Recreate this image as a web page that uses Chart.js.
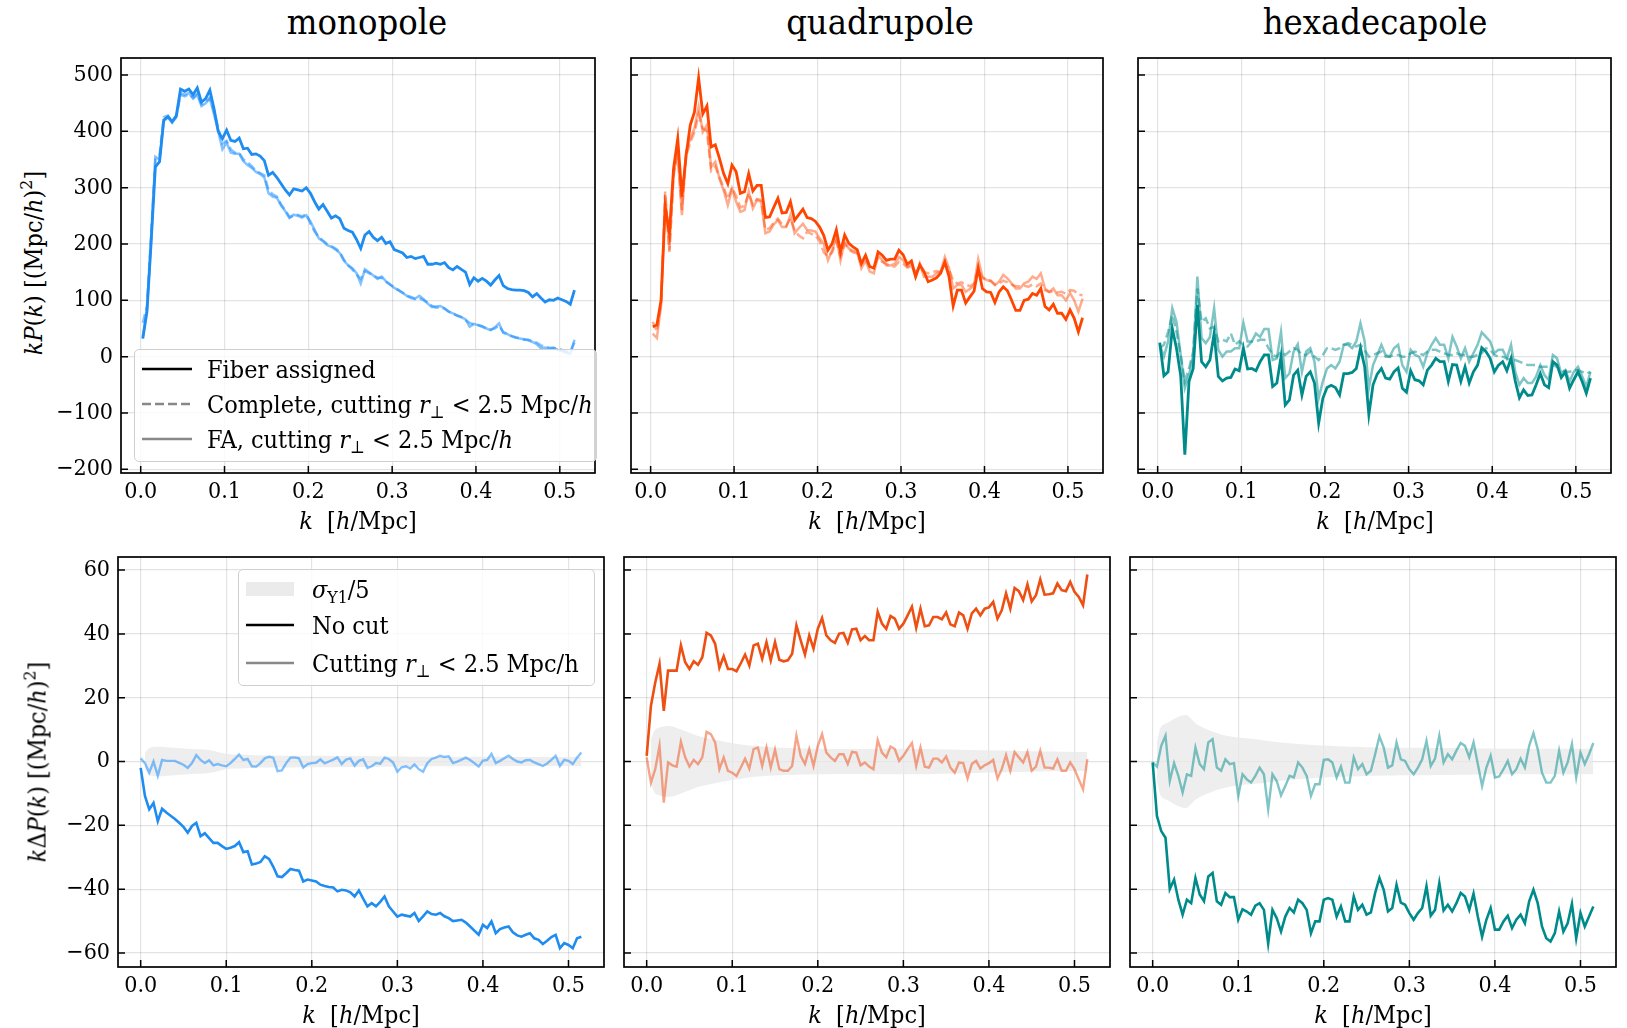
<!DOCTYPE html>
<html>
<head>
<meta charset="utf-8">
<script src="https://cdn.jsdelivr.net/npm/chart.js@4.4.1/dist/chart.umd.min.js"></script>
<style>
  body { margin: 0; width: 1627px; height: 1028px; background: #fff; position: relative; overflow: hidden;
         font-family: "DejaVu Serif Condensed", "DejaVu Serif", serif; font-stretch: condensed; color: #000; }
  canvas { position: absolute; }
  .txt { position: absolute; white-space: nowrap; line-height: 1; }
  .title { font-size: 36px; transform: translate(-50%, -50%); }
  .xlabel { font-size: 25px; transform: translate(-50%, -50%); }
  .ylabel { font-size: 25px; transform: translate(-50%, -50%) rotate(-90deg); }
  sup { font-size: 0.7em; vertical-align: 0.55em; line-height: 0; }
  sub { font-size: 0.7em; vertical-align: -0.3em; line-height: 0; }
  .legend { position: absolute; background: rgba(255,255,255,0.8); border: 1.5px solid #cfcfcf; border-radius: 5px; box-sizing: border-box; }
  .row { position: absolute; left: 0; height: 30px; display: flex; align-items: center; font-size: 25px; white-space: nowrap; }
  .row svg { position: absolute; }
  .row span { position: absolute; }
</style>
</head>
<body>
<div class="txt title" style="left:367px; top:22px">monopole</div>
<div class="txt title" style="left:880px; top:22px">quadrupole</div>
<div class="txt title" style="left:1375px; top:22px">hexadecapole</div>

<div class="txt xlabel" style="left:358px; top:520px"><i>k</i>&nbsp;&nbsp;[<i>h</i>/Mpc]</div>
<div class="txt xlabel" style="left:867px; top:520px"><i>k</i>&nbsp;&nbsp;[<i>h</i>/Mpc]</div>
<div class="txt xlabel" style="left:1375px; top:520px"><i>k</i>&nbsp;&nbsp;[<i>h</i>/Mpc]</div>
<div class="txt xlabel" style="left:361px; top:1014px"><i>k</i>&nbsp;&nbsp;[<i>h</i>/Mpc]</div>
<div class="txt xlabel" style="left:867px; top:1014px"><i>k</i>&nbsp;&nbsp;[<i>h</i>/Mpc]</div>
<div class="txt xlabel" style="left:1373px; top:1014px"><i>k</i>&nbsp;&nbsp;[<i>h</i>/Mpc]</div>

<div class="txt ylabel" style="left:33px; top:263px"><i>kP</i>(<i>k</i>) [(Mpc/<i>h</i>)<sup>2</sup>]</div>
<div class="txt ylabel" style="left:37px; top:762px"><i>k</i>Δ<i>P</i>(<i>k</i>) [(Mpc/<i>h</i>)<sup>2</sup>]</div>

<script>
// k bin centres of the multipoles, and the bins of the differences
const kTop = [
  0.0025, 0.0075, 0.0125, 0.0175, 0.0225, 0.0275, 0.0325, 0.0375, 0.0425, 0.0475,
  0.0525, 0.0575, 0.0625, 0.0675, 0.0725, 0.0775, 0.0825, 0.0875, 0.0925, 0.0975,
  0.1025, 0.1075, 0.1125, 0.1175, 0.1225, 0.1275, 0.1325, 0.1375, 0.1425, 0.1475,
  0.1525, 0.1575, 0.1625, 0.1675, 0.1725, 0.1775, 0.1825, 0.1875, 0.1925, 0.1975,
  0.2025, 0.2075, 0.2125, 0.2175, 0.2225, 0.2275, 0.2325, 0.2375, 0.2425, 0.2475,
  0.2525, 0.2575, 0.2625, 0.2675, 0.2725, 0.2775, 0.2825, 0.2875, 0.2925, 0.2975,
  0.3025, 0.3075, 0.3125, 0.3175, 0.3225, 0.3275, 0.3325, 0.3375, 0.3425, 0.3475,
  0.3525, 0.3575, 0.3625, 0.3675, 0.3725, 0.3775, 0.3825, 0.3875, 0.3925, 0.3975,
  0.4025, 0.4075, 0.4125, 0.4175, 0.4225, 0.4275, 0.4325, 0.4375, 0.4425, 0.4475,
  0.4525, 0.4575, 0.4625, 0.4675, 0.4725, 0.4775, 0.4825, 0.4875, 0.4925, 0.4975,
  0.5025, 0.5075, 0.5125, 0.5175
]
const kBottom = [
  0.000, 0.005, 0.010, 0.015, 0.020, 0.025, 0.030, 0.035, 0.040, 0.045,
  0.050, 0.055, 0.060, 0.065, 0.070, 0.075, 0.080, 0.085, 0.090, 0.095,
  0.100, 0.105, 0.110, 0.115, 0.120, 0.125, 0.130, 0.135, 0.140, 0.145,
  0.150, 0.155, 0.160, 0.165, 0.170, 0.175, 0.180, 0.185, 0.190, 0.195,
  0.200, 0.205, 0.210, 0.215, 0.220, 0.225, 0.230, 0.235, 0.240, 0.245,
  0.250, 0.255, 0.260, 0.265, 0.270, 0.275, 0.280, 0.285, 0.290, 0.295,
  0.300, 0.305, 0.310, 0.315, 0.320, 0.325, 0.330, 0.335, 0.340, 0.345,
  0.350, 0.355, 0.360, 0.365, 0.370, 0.375, 0.380, 0.385, 0.390, 0.395,
  0.400, 0.405, 0.410, 0.415, 0.420, 0.425, 0.430, 0.435, 0.440, 0.445,
  0.450, 0.455, 0.460, 0.465, 0.470, 0.475, 0.480, 0.485, 0.490, 0.495,
  0.500, 0.505, 0.510, 0.515
]
const kBand = [0.005, 0.01, 0.02, 0.03, 0.04, 0.05, 0.06, 0.08, 0.10, 0.12, 0.15, 0.20, 0.25, 0.30, 0.35, 0.40, 0.45, 0.50, 0.515]

// monopole kP(k)
const monoFA = [
  32, 80, 204, 337, 346, 420, 426, 417, 428, 475,
  471, 475, 465, 477, 452, 458, 473, 440, 400, 387,
  402, 384, 382, 388, 369, 370, 359, 360, 356, 348,
  322, 327, 318, 307, 296, 287, 298, 296, 294, 300,
  290, 275, 262, 270, 258, 246, 250, 245, 228, 224,
  221, 208, 192, 216, 222, 212, 206, 212, 201, 204,
  190, 187, 184, 176, 178, 174, 176, 178, 164, 164,
  166, 164, 167, 158, 154, 160, 155, 150, 128, 140,
  134, 139, 134, 127, 136, 144, 126, 121, 119, 118,
  118, 117, 114, 106, 112, 104, 97, 101, 100, 104,
  101, 98, 93, 118
]
const monoCutFA = [
  35, 85, 210, 355, 350, 418, 425, 415, 425, 468,
  465, 468, 458, 465, 445, 450, 458, 430, 400, 368,
  380, 362, 360, 360, 347, 340, 335, 328, 324, 318,
  290, 284, 282, 268, 258, 246, 252, 250, 247, 251,
  240, 225, 210, 205, 198, 195, 190, 184, 170, 162,
  157, 148, 130, 155, 150, 144, 138, 142, 134, 128,
  122, 118, 113, 108, 106, 103, 108, 102, 94, 88,
  89, 90, 86, 80, 77, 73, 70, 66, 53, 58,
  56, 53, 50, 47, 52, 59, 42, 40, 36, 34,
  32, 31, 29, 26, 22, 15, 16, 14, 16, 12,
  10, 7, 5, 30
]
const monoCutComplete = [
  60, 90, 220, 350, 358, 425, 428, 418, 426, 465,
  462, 466, 460, 467, 448, 452, 460, 435, 405, 378,
  383, 368, 362, 362, 350, 345, 338, 330, 326, 322,
  296, 288, 284, 270, 260, 248, 250, 252, 249, 253,
  236, 222, 212, 206, 200, 196, 192, 186, 172, 162,
  155, 146, 138, 152, 148, 145, 140, 140, 133, 128,
  123, 118, 114, 108, 104, 102, 104, 100, 96, 90,
  87, 88, 85, 80, 76, 73, 70, 65, 60, 57,
  56, 54, 50, 48, 50, 55, 44, 40, 37, 34,
  33, 30, 30, 27, 25, 20, 17, 16, 15, 14,
  12, 10, 8, 25
]

// quadrupole kP(k)
const quadFA = [
  53, 56, 100, 266, 219, 334, 387, 284, 357, 411,
  434, 495, 431, 445, 372, 376, 352, 325, 307, 340,
  328, 290, 293, 325, 294, 304, 304, 247, 248, 265,
  281, 255, 256, 275, 242, 252, 262, 247, 245, 240,
  230, 215, 189, 201, 225, 186, 216, 201, 195, 190,
  165, 180, 160, 157, 186, 180, 171, 173, 173, 189,
  181, 164, 170, 142, 163, 151, 133, 136, 140, 148,
  168, 142, 90, 118, 118, 95, 106, 116, 157, 121,
  115, 114, 96, 115, 124, 117, 100, 82, 82, 100,
  102, 112, 109, 121, 89, 83, 93, 77, 77, 66,
  83, 68, 44, 69
]
const quadCutFA = [
  41, 33, 90, 287, 189, 328, 358, 251, 364, 387,
  405, 443, 399, 411, 337, 346, 316, 295, 269, 298,
  275, 257, 260, 293, 263, 278, 275, 219, 222, 235,
  242, 230, 230, 251, 219, 228, 236, 225, 224, 222,
  210, 200, 171, 189, 213, 171, 204, 192, 188, 186,
  157, 171, 151, 148, 180, 171, 162, 162, 165, 177,
  171, 160, 163, 142, 165, 142, 142, 142, 148, 151,
  177, 157, 121, 127, 127, 115, 120, 127, 173, 142,
  136, 134, 127, 133, 145, 139, 130, 121, 121, 130,
  133, 142, 138, 148, 121, 115, 121, 109, 109, 100,
  113, 100, 80, 103
]
const quadCutComplete = [
  62, 45, 95, 293, 186, 320, 365, 260, 355, 380,
  398, 430, 405, 400, 330, 338, 318, 300, 280, 300,
  285, 265, 268, 290, 270, 280, 278, 225, 228, 238,
  245, 235, 232, 245, 225, 215, 210, 222, 218, 215,
  205, 185, 178, 185, 205, 178, 200, 190, 185, 183,
  165, 172, 160, 158, 175, 168, 165, 160, 160, 168,
  165, 158, 160, 150, 158, 150, 148, 150, 152, 150,
  165, 155, 135, 130, 132, 128, 125, 130, 155, 140,
  135, 135, 128, 130, 135, 132, 128, 125, 125, 126,
  124, 128, 125, 130, 118, 115, 116, 114, 115, 112,
  118, 117, 110, 109
]

// hexadecapole kP(k)
const hexFA = [
  25, -34, -27, 50, 15, -33, -174, -44, -21, 92,
  -9, -18, -6, 41, -35, -43, -38, -37, -22, -25,
  15, -22, -21, -25, -9, 3, 3, -53, -47, 0,
  -86, -77, -33, -24, -68, -35, -27, -47, -118, -74,
  -55, -51, -55, -68, -30, -30, -28, -21, 15, -18,
  -103, -50, -31, -21, -38, -40, -27, -20, -56, -63,
  -25, -41, -43, -50, -24, -15, -3, -9, -9, -44,
  -14, -15, -44, -18, -47, -27, -15, 16, 9, -3,
  -27, -15, -9, -25, -3, -43, -73, -59, -69, -68,
  -50, -30, -50, -55, -9, -15, -37, -27, -56, -41,
  -27, -44, -65, -38
]
const hexCutFA = [
  21, 0, 27, 86, 62, 3, -56, -33, 3, 142,
  33, 24, 35, 86, 12, 0, 9, 9, 15, 15,
  60, 27, 27, 41, 35, 49, 49, -6, -3, 44,
  -38, -30, 9, 22, -27, 9, 15, -9, -74, -44,
  -21, -15, -21, -9, 21, 21, 15, 27, 59, 27,
  -56, -15, 3, 21, 3, 0, 15, 21, -15, -27,
  12, 3, 0, -18, 6, 21, 33, 21, 21, -3,
  35, 18, -3, 15, -9, 6, 21, 43, 35, 27,
  6, 12, 12, -3, 21, -27, -50, -38, -47, -47,
  -35, -15, -33, -41, 3, -3, -30, -24, -44, -27,
  -18, -35, -53, -27
]
const hexCutComplete = [
  15, 21, 44, 74, 44, 3, -44, -21, 9, 121,
  62, 68, 50, 53, 27, 30, 27, 41, 21, 27,
  21, 18, 27, 27, 30, 30, 15, 3, 0, 9,
  3, 9, 15, 12, 3, 3, 9, 0, -6, 3,
  15, 15, 12, 15, 21, 24, 21, 18, 21, 12,
  0, 3, 6, 9, 0, 0, 3, 3, 0, 0,
  6, 9, 6, 3, 9, 12, 12, 9, 6, 3,
  3, 6, 3, 3, 0, 0, 3, 6, 15, 12,
  3, 0, 0, -3, -6, -6, -9, -12, -15, -15,
  -15, -18, -18, -18, -15, -18, -24, -27, -27, -24,
  -24, -27, -30, -27
]

// k ΔP(k): fiber assigned minus complete, with and without the r_perp cut
const monoNoCut = [
  -2, -10.8, -15, -13, -18.7, -14.8, -16, -17, -18, -19.2,
  -20.5, -22.3, -20.2, -19.2, -23.4, -22.5, -24, -25.5, -25.5, -26.5,
  -27.4, -27, -26.5, -25.3, -28.4, -28.1, -32.3, -32, -31.5, -29.7,
  -30.5, -33, -36, -36.2, -35, -33.7, -34, -34.2, -37.6, -37,
  -37.3, -37.6, -38.6, -39, -39.3, -39.5, -40.7, -40.2, -40.4, -41,
  -42.3, -40.4, -43, -45.4, -44.4, -45.4, -44, -42.3, -45.4, -47,
  -48.6, -48, -48.3, -48.6, -47.5, -50, -48.5, -47, -47.8, -48,
  -47.5, -48.5, -49.1, -50, -49.8, -49.6, -50.5, -51.7, -53, -54.3,
  -51.2, -52.2, -50.1, -53.8, -52.5, -52, -51.7, -53.5, -54.5, -54.9,
  -54.3, -53.8, -55.4, -55.9, -57.2, -56.2, -55, -54.3, -58.5, -56.9,
  -57.5, -58.5, -55.4, -54.9
]
const monoCut = [
  1.0, -0.5, -3.5, 0.0, -4.5, 0.5, 0.2, 0.2, 0.2, -0.4,
  -1.0, -2.0, -0.5, 2.0, 0.5, -0.5, 0.4, -1.2, -0.8, -1.2,
  -1.5, -0.5, 0.8, 2.2, 0.5, 0.8, -1.5, -1.6, -0.5, 1.0,
  1.5, 1.2, -3.0, -2.8, -0.5, 1.2, 1.3, 1.0, -1.9, -0.8,
  -0.5, -0.4, 0.7, -0.6, 0.0, 0.6, 1.3, -0.8, 0.6, 1.0,
  -1.3, 0.2, 0.7, -2.0, -1.5, -0.5, -0.7, 1.2, 0.8, -0.3,
  -3.2, -1.8, -1.5, -2.2, -0.9, -2.4, -3.2, -0.5, 0.8, 1.2,
  1.8, 1.4, 1.6, -0.5, 0.0, 0.6, 1.2, 0.5, -0.5, -1.6,
  0.3, 0.5, 2.4, -0.5, 0.2, 1.0, 1.8, 0.8, 0.0, -0.3,
  0.4, 0.5, -0.3, -0.8, -1.4, -0.6, 0.5, 1.8, -1.4, 0.5,
  0.2, -0.8, 1.2, 2.8
]
const quadNoCut = [
  1.8, 17.5, 24.8, 30.6, 15.9, 28.5, 28.5, 28.5, 36.4, 31.1,
  29, 31.4, 30.3, 32.7, 40.3, 39.5, 36.9, 29.4, 33, 29,
  29, 28.3, 30.8, 33.5, 30.1, 36.4, 36.9, 32.2, 37.4, 31.7,
  37.4, 31.9, 31.4, 31.7, 33.8, 42.7, 38, 33.5, 39.5, 35.4,
  41.6, 45, 39.5, 38, 37.2, 40.1, 40.3, 37.2, 41.4, 41.6,
  38, 39.3, 38, 38, 46.9, 43.2, 41.6, 45.6, 44.8, 41.6,
  43.2, 45.8, 48.5, 41.9, 47.9, 42.4, 42.7, 45.3, 45.3, 44.6,
  46.7, 43, 42.4, 46.7, 45.8, 41.6, 46.4, 47.9, 45.8, 47.9,
  48.3, 50, 44.8, 47.4, 52.7, 47.9, 54.4, 53.4, 50.6, 55.5,
  50.2, 52.1, 57.1, 52.3, 52.4, 52.7, 55.8, 53.7, 53.4, 56.3,
  53.2, 51.6, 49, 58.6
]
const quadCut = [
  1.3, -6.6, -2.4, 4.9, -12.9, -0.3, -1.2, -1.6, 6.2, 1.3,
  -1.6, 0.5, -0.8, 1.3, 9.3, 8.6, 6, -2.4, 1.3, -2.9,
  -3.5, -4.5, -1.9, 0.9, -2.2, 3.9, 4.4, -1.4, 4.4, -1.9,
  3.7, -2.4, -2.9, -2.9, -1.4, 8.1, 1.8, -0.8, 3.9, -1.4,
  4.9, 8.6, 2.8, 1.3, 0.2, 2.3, 2.3, -0.8, 3, 2.8,
  -1.2, -0.3, -1.6, -2.4, 6.7, 2.8, 1.3, 4.7, 3.9, 0.2,
  1.8, 3.9, 5.8, -1.4, 4.4, -1.6, -1.9, 0.9, 0.9, -0.3,
  1.6, -1.9, -3.5, -0.3, -0.5, -5.3, -0.8, 0.2, -2.2, -1.2,
  -0.5, 0.5, -5.3, -2.4, 2, -2.9, 3, 1.3, -0.3, 3,
  -2.9, -1.6, 3.4, -1.9, -1.9, -2.2, 0.7, -2.9, -2.9, -0.3,
  -2.4, -5.6, -8.7, 0.7
]
const hexNoCut = [
  -0.3, -17.1, -21.8, -23.9, -40, -37, -43.3, -48, -43.3, -44.4,
  -36.5, -41.7, -43.8, -36, -34.9, -43.8, -44.9, -41.2, -42.5, -42.5,
  -49.6, -46.3, -47, -48, -45.2, -44.4, -46.5, -57, -46.5, -49.1,
  -53.3, -48.6, -45.9, -47.3, -43.3, -44.4, -46.5, -53.8, -50.1, -50.1,
  -43.3, -42.8, -43.3, -48.6, -45.4, -50.1, -50.1, -42.3, -46.5, -44.9,
  -48, -47.3, -41.2, -36.5, -40.2, -47, -45.9, -38.6, -44.2, -44.9,
  -47.5, -49.6, -47.5, -45.9, -39.1, -48.3, -46.5, -38.1, -46.7, -44.9,
  -47, -44.4, -41.2, -42.3, -46.5, -41.4, -48.6, -54.9, -49.6, -45.9,
  -52.7, -52.7, -50.1, -48.3, -52.2, -49.6, -48, -50.7, -43.8, -40.2,
  -44.4, -51.7, -55.4, -56.4, -53.8, -47, -53.3, -50.7, -44.6, -55.4,
  -47.5, -51.7, -48.6, -45.4
]
const hexCut = [
  -0.3, -1.6, 4.9, 8.1, -6.1, -0.5, -4.5, -9.7, -4, -4.5,
  4.4, -0.8, -2.4, 6, 7, -1.9, -2.9, 0.7, -0.8, -0.5,
  -10.8, -4, -5.6, -6.6, -4.5, -1.9, -4, -15, -4, -6.1,
  -10.6, -7.7, -4.5, -5, -0.3, -1.9, -4.5, -10.8, -7.1, -7.1,
  0.5, 0.7, -0.3, -5, -1.6, -6.6, -6.6, 1.3, -2.4, -0.8,
  -4, -2.9, 2.3, 7.9, 4.4, -1.9, -1.2, 6, 0.7, 0.2,
  -2.4, -4, -1.9, 0.7, 6.5, -1.4, 0.9, 8.1, -0.3, 2.3,
  0.7, 3.4, 5.8, 4.9, 1.3, 6, -0.8, -7.7, -1.9, 1.8,
  -5, -4.7, -2.4, 0.2, -4, -2.4, 0.9, -1.9, 4.9, 8.9,
  3.9, -3.5, -6.6, -6.6, -4.5, 3.4, -3.5, -0.3, 5.5, -5,
  2.8, -0.8, 2.3, 5.8
]

// sigma_Y1 / 5 half widths on the kBand grid
const sigmaMono = [2.5, 4.2, 4.6, 4.5, 4.3, 4.1, 3.9, 3.6, 2.4, 2.1, 1.9, 1.8, 1.7, 1.6, 1.5, 1.5, 1.4, 1.4, 1.4]
const sigmaQuad = [7, 10, 11, 11, 10, 9, 8, 6.8, 5.8, 5, 4.4, 4.0, 3.9, 4.0, 3.8, 3.5, 3.2, 3.0, 3.0]
const sigmaHex = [6, 11, 12.5, 14, 14.5, 12, 10.5, 8.5, 7.5, 7, 6, 5, 4.5, 4.3, 4.2, 4, 4, 4, 4]

const yTicksTop = { min: -206.6, max: 530.2, step: 100 }
const yTicksBottom = { min: -64.4, max: 64.1, step: 20 }

const BLUE = "#1e8cf0", BLUE_LIGHT = "rgba(30,144,255,0.55)"
const ORANGE = "#ff4500", ORANGE_LIGHT = "rgba(255,69,0,0.45)"
const ORANGE_DIFF = "#ee5014", ORANGE_DIFF_LIGHT = "rgba(240,90,40,0.55)"
const TEAL = "#008b8b", TEAL_LIGHT = "rgba(0,139,139,0.5)"
const BAND = "rgba(232,232,232,0.75)"
const FONT = { family: "'DejaVu Serif Condensed', 'DejaVu Serif', serif", size: 23 }

function line(k, ys, color, extra = {}) {
  return {
    data: k.map((x, i) => ({ x: x, y: ys[i] })),
    borderColor: color,
    borderWidth: 2.8,
    pointRadius: 0,
    fill: false,
    tension: 0,
    order: 1,
    ...extra
  }
}

function band(halfWidth) {
  return [
    { data: kBand.map((x, i) => ({ x: x, y: halfWidth[i] })), borderWidth: 0, borderColor: "transparent",
      pointRadius: 0, fill: "+1", backgroundColor: BAND, order: 10, tension: 0.3 },
    { data: kBand.map((x, i) => ({ x: x, y: -halfWidth[i] })), borderWidth: 0, borderColor: "transparent",
      pointRadius: 0, fill: false, order: 10, tension: 0.3 }
  ]
}

// black frame and matplotlib-style inward ticks
const framePlugin = {
  id: "frame",
  afterDraw(chart) {
    const { ctx, chartArea: a, scales } = chart
    ctx.save()
    ctx.strokeStyle = "#000"
    ctx.lineWidth = 1.5
    ctx.beginPath()
    scales.x.ticks.forEach((t) => {
      const px = scales.x.getPixelForValue(t.value)
      ctx.moveTo(px, a.bottom)
      ctx.lineTo(px, a.bottom - 7)
    })
    scales.y.ticks.forEach((t) => {
      const py = scales.y.getPixelForValue(t.value)
      ctx.moveTo(a.left, py)
      ctx.lineTo(a.left + 7, py)
    })
    ctx.stroke()
    ctx.lineWidth = 1.7
    ctx.strokeRect(a.left, a.top, a.right - a.left, a.bottom - a.top)
    ctx.restore()
  }
}

function makePanel(p) {
  const padL = 70, padT = 10, padR = 10, padB = 45
  const canvas = document.createElement("canvas")
  canvas.width = p.w + padL + padR
  canvas.height = p.h + padT + padB
  canvas.style.left = (p.x - padL) + "px"
  canvas.style.top = (p.y - padT) + "px"
  document.body.insertBefore(canvas, document.body.firstChild)

  const minus = (v) => (v < 0 ? "\u2212" + Math.abs(v) : String(v))

  new Chart(canvas.getContext("2d"), {
    type: "line",
    data: { datasets: p.datasets },
    options: {
      responsive: false,
      animation: false,
      devicePixelRatio: 1,
      layout: { autoPadding: false, padding: { top: padT, right: padR, left: 0, bottom: 0 } },
      plugins: { legend: { display: false }, tooltip: { enabled: false } },
      scales: {
        x: {
          type: "linear",
          min: p.xr[0],
          max: p.xr[1],
          afterFit: (s) => { s.height = padB; s.paddingLeft = 0; s.paddingRight = 0 },
          border: { display: false },
          grid: { color: "rgba(0,0,0,0.11)", lineWidth: 1.2, drawTicks: false },
          ticks: { stepSize: 0.1, includeBounds: false, autoSkip: false, maxRotation: 0, padding: 5,
                   color: "#000", font: FONT, callback: (v) => v.toFixed(1) }
        },
        y: {
          type: "linear",
          min: p.yr.min,
          max: p.yr.max,
          afterFit: (s) => { s.width = padL; s.paddingTop = 0; s.paddingBottom = 0 },
          border: { display: false },
          grid: { color: "rgba(0,0,0,0.11)", lineWidth: 1.2, drawTicks: false },
          ticks: { stepSize: p.yr.step, includeBounds: false, display: p.showY, padding: 8,
                   color: "#000", font: FONT, callback: minus }
        }
      }
    },
    plugins: [framePlugin]
  })
}

const xTop = [-0.0235, 0.542]
const xBottom = [-0.0265, 0.5415]

const panels = [
  { x: 121, y: 58, w: 474, h: 415, xr: xTop, yr: yTicksTop, showY: true, datasets: [
    line(kTop, monoCutComplete, BLUE_LIGHT, { borderDash: [9, 4], order: 3, borderWidth: 2.5 }),
    line(kTop, monoCutFA, BLUE_LIGHT, { order: 2, borderWidth: 2.5 }),
    line(kTop, monoFA, BLUE)
  ] },
  { x: 631, y: 58, w: 472, h: 415, xr: xTop, yr: yTicksTop, showY: false, datasets: [
    line(kTop, quadCutComplete, ORANGE_LIGHT, { borderDash: [9, 4], order: 3, borderWidth: 2.5 }),
    line(kTop, quadCutFA, ORANGE_LIGHT, { order: 2, borderWidth: 2.5 }),
    line(kTop, quadFA, ORANGE)
  ] },
  { x: 1138, y: 58, w: 473, h: 415, xr: xTop, yr: yTicksTop, showY: false, datasets: [
    line(kTop, hexCutComplete, TEAL_LIGHT, { borderDash: [9, 4], order: 3, borderWidth: 2.5 }),
    line(kTop, hexCutFA, TEAL_LIGHT, { order: 2, borderWidth: 2.5 }),
    line(kTop, hexFA, TEAL)
  ] },
  { x: 118, y: 557, w: 486, h: 410, xr: xBottom, yr: yTicksBottom, showY: true, datasets: [
    ...band(sigmaMono),
    line(kBottom, monoCut, BLUE_LIGHT, { order: 2, borderWidth: 2.4 }),
    line(kBottom, monoNoCut, BLUE, { borderWidth: 2.6 })
  ] },
  { x: 624, y: 557, w: 486, h: 410, xr: xBottom, yr: yTicksBottom, showY: false, datasets: [
    ...band(sigmaQuad),
    line(kBottom, quadCut, ORANGE_DIFF_LIGHT, { order: 2, borderWidth: 2.4 }),
    line(kBottom, quadNoCut, ORANGE_DIFF, { borderWidth: 2.6 })
  ] },
  { x: 1130, y: 557, w: 486, h: 410, xr: xBottom, yr: yTicksBottom, showY: false, datasets: [
    ...band(sigmaHex),
    line(kBottom, hexCut, TEAL_LIGHT, { order: 2, borderWidth: 2.4 }),
    line(kBottom, hexNoCut, TEAL, { borderWidth: 2.6 })
  ] }
]

panels.forEach(makePanel)
</script>

<div class="legend" style="left:134px; top:349px; width:463px; height:113px">
  <div class="row" style="top:4px">
    <svg style="left:7px" width="50" height="10"><line x1="0" y1="5" x2="50" y2="5" stroke="#000" stroke-width="2.6"/></svg>
    <span style="left:72px">Fiber assigned</span>
  </div>
  <div class="row" style="top:39px">
    <svg style="left:7px" width="50" height="10"><line x1="0" y1="5" x2="50" y2="5" stroke="#888" stroke-width="2.6" stroke-dasharray="9 4"/></svg>
    <span style="left:72px">Complete, cutting <i>r</i><sub>⊥</sub> &lt; 2.5 Mpc/<i>h</i></span>
  </div>
  <div class="row" style="top:74px">
    <svg style="left:7px" width="50" height="10"><line x1="0" y1="5" x2="50" y2="5" stroke="#888" stroke-width="2.6"/></svg>
    <span style="left:72px">FA, cutting <i>r</i><sub>⊥</sub> &lt; 2.5 Mpc/<i>h</i></span>
  </div>
</div>

<div class="legend" style="left:238px; top:569px; width:357px; height:117px">
  <div class="row" style="top:4px">
    <svg style="left:7px" width="50" height="16"><rect x="0" y="1" width="48" height="14" fill="#ebebeb"/></svg>
    <span style="left:73px"><i>σ</i><sub>Y1</sub>/5</span>
  </div>
  <div class="row" style="top:40px">
    <svg style="left:7px" width="50" height="10"><line x1="0" y1="5" x2="48" y2="5" stroke="#000" stroke-width="2.6"/></svg>
    <span style="left:73px">No cut</span>
  </div>
  <div class="row" style="top:78px">
    <svg style="left:7px" width="50" height="10"><line x1="0" y1="5" x2="48" y2="5" stroke="#888" stroke-width="2.6"/></svg>
    <span style="left:73px">Cutting <i>r</i><sub>⊥</sub> &lt; 2.5 Mpc/h</span>
  </div>
</div>
</body>
</html>
